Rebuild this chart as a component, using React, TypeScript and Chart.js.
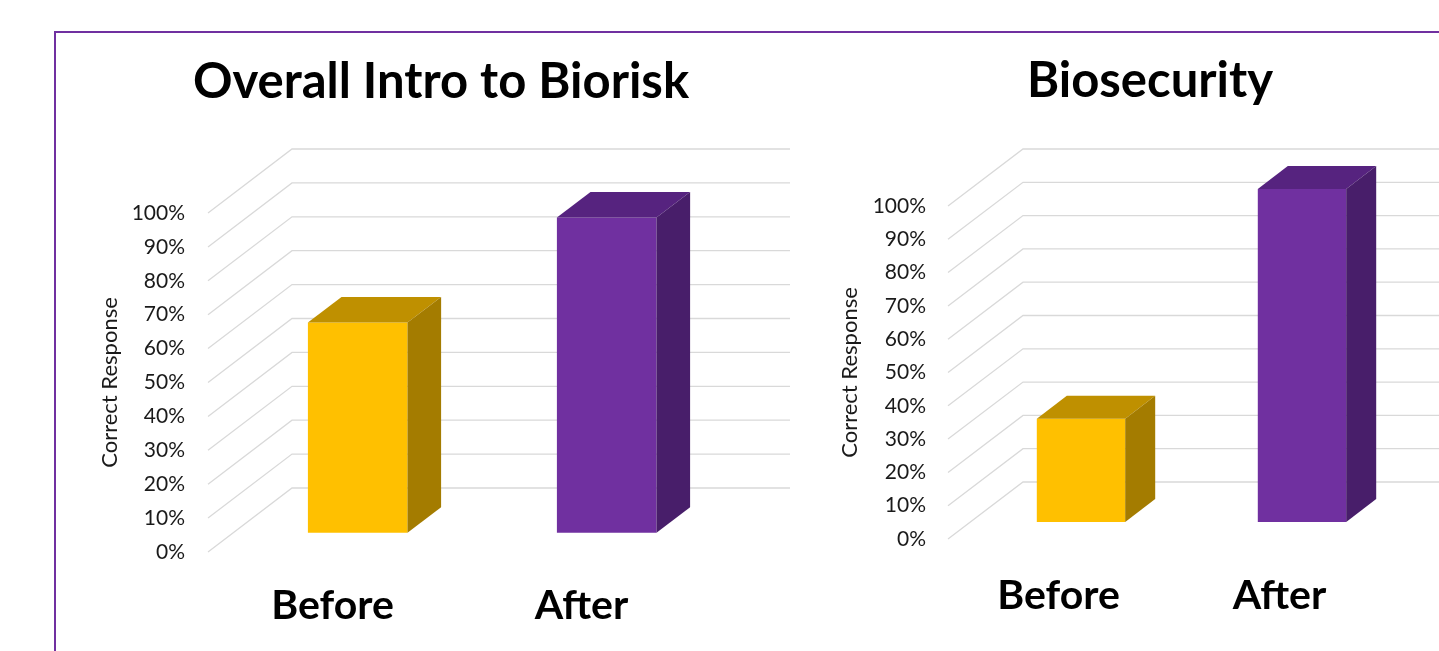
import React, { useEffect, useRef } from 'react';
import { Chart, registerables } from 'chart.js';

Chart.register(...registerables);

// ---------- data ----------
const categories = ['Before', 'After'];
const introValues = [62, 93];
const biosecurityValues = [31, 100];
const chartTitles = ['Overall Intro to Biorisk', 'Biosecurity'];
const yAxisTitle = 'Correct Response';
const tickStep = 10;
const tickMax = 100;

// ---------- styles ----------
const frontColors = ['#FFC000', '#7030A0'];
const topColors = ['#BF9000', '#56237F'];
const sideColors = ['#A47C00', '#481E6A'];
const gridColor = '#D9D9D9';
const textColor = '#1a1a1a';
const FONT = 'Lato, "Noto Sans", sans-serif';

const W = 1439;
const H = 651;
const CW = 1600; // canvas width (clipped by container)

type Geom = {
  padL: number; frontLeft: number; frontRight: number; titleCenterX: number;
  tickPad: number; titleCenterY: number; chartTop: number; chartBottom: number;
  xLabelCenter: number; axisTitleX: number; dx: number; dy: number;
};

const leftGeom: Geom = {
  padL: 99, frontLeft: 208, frontRight: 706, titleCenterX: 441, tickPad: 23,
  titleCenterY: 82, chartTop: 213, chartBottom: 552,
  xLabelCenter: 606, axisTitleX: 110, dx: 84, dy: -64,
};
const rightGeom: Geom = {
  padL: 830, frontLeft: 948, frontRight: 1390, titleCenterX: 1150, tickPad: 22,
  titleCenterY: 81, chartTop: 206, chartBottom: 539,
  xLabelCenter: 596, axisTitleX: 850, dx: 75, dy: -57,
};

const TITLE_SIZE = 49;
const XLABEL_SIZE = 41;
const TICK_SIZE = 21;
const AXIS_TITLE_SIZE = 22;

function make3dPlugin(g: Geom) {
  const front = 0.3;
  const depth = 0.4;
  return {
    id: 'bar3d',
    beforeDatasetsDraw(chart: any) {
      const { ctx, chartArea: a } = chart;
      const y = chart.scales.y;
      ctx.save();
      ctx.strokeStyle = gridColor;
      ctx.lineWidth = 1.3;
      y.ticks.forEach((t: any) => {
        const py = y.getPixelForValue(t.value);
        ctx.beginPath();
        ctx.moveTo(a.left, py);
        ctx.lineTo(a.left + g.dx, py + g.dy);
        ctx.lineTo(a.right + g.dx, py + g.dy);
        ctx.stroke();
      });
      ctx.restore();
      ctx.save();
      ctx.translate(g.dx * front, g.dy * front);
    },
    afterDatasetsDraw(chart: any) {
      const { ctx } = chart;
      ctx.restore();
      const ox = g.dx * front;
      const oy = g.dy * front;
      const bx = g.dx * depth;
      const by = g.dy * depth;
      const poly = (pts: number[]) => {
        ctx.beginPath();
        ctx.moveTo(pts[0], pts[1]);
        for (let i = 2; i < pts.length; i += 2) ctx.lineTo(pts[i], pts[i + 1]);
        ctx.closePath();
        ctx.fill();
      };
      chart.getDatasetMeta(0).data.forEach((el: any, i: number) => {
        const { x, y, base, width } = el.getProps(['x', 'y', 'base', 'width'], true);
        const L = x - width / 2 + ox;
        const R = x + width / 2 + ox;
        const T = y + oy;
        const B = base + oy;
        ctx.save();
        ctx.fillStyle = topColors[i];
        poly([L, T, R, T, R + bx, T + by, L + bx, T + by]);
        ctx.fillStyle = sideColors[i];
        poly([R, T, R + bx, T + by, R + bx, B + by, R, B]);
        ctx.restore();
      });
    },
  };
}

function Bar3D({ title, values, g }: { title: string; values: number[]; g: Geom }) {
  const ref = useRef<HTMLCanvasElement>(null);
  useEffect(() => {
    if (!ref.current) return;
    const titleLH = TITLE_SIZE * 1.2;
    const xLH = XLABEL_SIZE * 1.2;
    const axLH = AXIS_TITLE_SIZE * 1.2;
    const yAxisWidth = g.frontLeft - g.padL;
    const titleRight = 2 * g.titleCenterX - g.padL;
    const padR = CW - titleRight;
    const dummyWidth = titleRight - g.frontRight;
    const chart = new Chart(ref.current, {
      type: 'bar',
      data: {
        labels: categories,
        datasets: [
          {
            data: values,
            backgroundColor: frontColors,
            barPercentage: 0.4,
            categoryPercentage: 1,
            clip: false as any,
          },
        ],
      },
      plugins: [make3dPlugin(g) as any],
      options: {
        animation: false,
        responsive: false,
        devicePixelRatio: 1,
        layout: { padding: { left: g.padL, right: padR, top: 0, bottom: 0 } },
        plugins: {
          legend: { display: false },
          tooltip: { enabled: false },
          title: {
            display: true,
            text: title,
            color: '#000',
            font: { family: FONT, size: TITLE_SIZE, weight: 'bold', lineHeight: 1.2 },
            padding: {
              top: g.titleCenterY - titleLH / 2,
              bottom: g.chartTop - g.titleCenterY - titleLH / 2,
            },
          },
        },
        scales: {
          x: {
            grid: { display: false, drawTicks: false },
            border: { display: false },
            ticks: {
              color: '#000',
              font: { family: FONT, size: XLABEL_SIZE, weight: 'bold', lineHeight: 1.2 },
              padding: g.xLabelCenter - g.chartBottom - xLH / 2,
              maxRotation: 0,
            },
            afterFit: (s: any) => { s.height = H - g.chartBottom; },
          },
          y: {
            min: 0,
            max: tickMax,
            grid: { display: false, drawTicks: false },
            border: { display: false },
            ticks: {
              stepSize: tickStep,
              autoSkip: false,
              color: textColor,
              font: { family: FONT, size: TICK_SIZE },
              padding: g.tickPad,
              callback: (v: any) => `${v}%`,
            },
            title: {
              display: true,
              text: yAxisTitle,
              color: textColor,
              font: { family: FONT, size: AXIS_TITLE_SIZE, lineHeight: 1.2 },
              padding: { top: g.axisTitleX - g.padL - axLH / 2, bottom: 0 },
            },
            afterFit: (s: any) => { s.width = yAxisWidth; },
          },
          spacer: {
            type: 'linear',
            position: 'right',
            min: 0,
            max: 1,
            grid: { display: false, drawTicks: false },
            border: { display: false },
            ticks: { display: false },
            afterFit: (s: any) => { s.width = dummyWidth; },
          },
        },
      } as any,
    });
    return () => chart.destroy();
  }, []);
  return (
    <canvas
      ref={ref}
      width={CW}
      height={H}
      style={{ position: 'absolute', left: 0, top: 0, width: CW, height: H }}
    />
  );
}

export default function App() {
  return (
    <div style={{ position: 'fixed', left: 0, top: 0, width: W, height: H, overflow: 'hidden', background: '#fff' }}>
      <div
        style={{
          position: 'absolute', left: 54, top: 31, width: 2000, height: 1000,
          borderTop: '2px solid #7030A0', borderLeft: '2px solid #7030A0',
        }}
      />
      <Bar3D title={chartTitles[0]} values={introValues} g={leftGeom} />
      <Bar3D title={chartTitles[1]} values={biosecurityValues} g={rightGeom} />
    </div>
  );
}
